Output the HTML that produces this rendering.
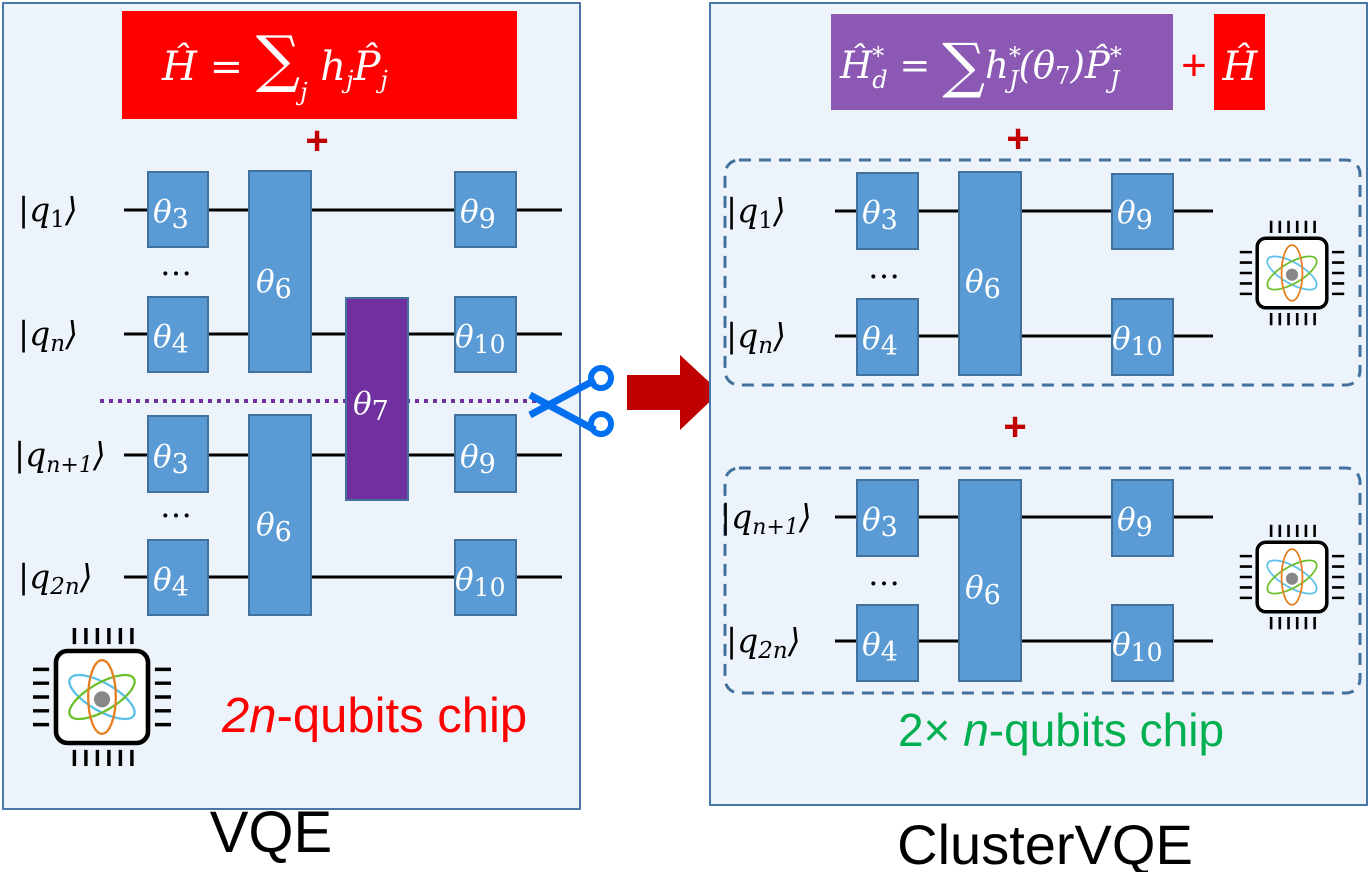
<!DOCTYPE html>
<html><head><meta charset="utf-8"><style>
body{margin:0;background:#fff;width:1370px;height:872px;overflow:hidden}
svg text{font-family:"DejaVu Serif","Liberation Serif",serif}
.th{fill:#fff;font-style:italic;font-size:31px}
.kt{fill:#000;font-style:italic;font-size:33px}
.sans{font-family:"Liberation Sans",sans-serif}
</style></head><body>
<svg width="1370" height="872" viewBox="0 0 1370 872">
<defs>
<g id="chip">
 <rect x="-40" y="-40" width="80" height="80" rx="10" fill="#fff" stroke="#000" stroke-width="4"/>
 <g stroke="#000" stroke-width="3">
  <path d="M-24,-46v-14M-14,-46v-14M-4,-46v-14M6,-46v-14M16,-46v-14M26,-46v-14"/>
  <path d="M-24,46v14M-14,46v14M-4,46v14M6,46v14M16,46v14M26,46v14"/>
  <path d="M-46,-24h-14M-46,-12h-14M-46,0h-14M-46,12h-14M-46,24h-14"/>
  <path d="M46,-24h14M46,-12h14M46,0h14M46,12h14M46,24h14"/>
 </g>
 <ellipse cx="0" cy="0" rx="32" ry="12" fill="none" stroke="#59c1e8" stroke-width="2" transform="rotate(30)"/>
 <ellipse cx="0" cy="0" rx="32" ry="12" fill="none" stroke="#6abf2a" stroke-width="2" transform="rotate(-30)"/>
 <ellipse cx="0" cy="0" rx="32" ry="12" fill="none" stroke="#e67e22" stroke-width="2" transform="rotate(90)"/>
 <circle cx="0" cy="2" r="7" fill="#888"/>
</g>
</defs>

<rect x="3" y="3" width="577" height="806" fill="#edf3fa" stroke="#4a76a8" stroke-width="2"/>
<rect x="122" y="11" width="395" height="108" fill="#ff0000"/>
<text x="162" y="80" fill="#fff" font-size="40" font-style="italic">Ĥ = <tspan font-size="62" font-style="normal">∑</tspan><tspan font-size="24" dy="20">j</tspan><tspan dy="-20"> h</tspan><tspan font-size="24" dy="8">j</tspan><tspan dy="-8">P̂</tspan><tspan font-size="24" dy="8">j</tspan></text>
<text x="317" y="154" text-anchor="middle" fill="#c00000" font-size="40" font-weight="bold" class="sans">+</text>

<g stroke="#000" stroke-width="3">
<line x1="124" y1="210" x2="562" y2="210"/><line x1="124" y1="334" x2="562" y2="334"/>
<line x1="124" y1="455" x2="562" y2="455"/><line x1="124" y1="577" x2="562" y2="577"/>
</g>
<line x1="100" y1="401" x2="550" y2="401" stroke="#7030a0" stroke-width="4" stroke-dasharray="4,5"/>
<g fill="#5b9bd5" stroke="#41719c" stroke-width="2">
<rect x="148" y="172" width="60" height="75"/><rect x="249" y="171" width="62" height="201"/><rect x="455" y="172" width="61" height="75"/>
<rect x="148" y="297" width="60" height="75"/><rect x="455" y="297" width="61" height="75"/>
<rect x="148" y="416" width="60" height="76"/><rect x="249" y="415" width="62" height="200"/><rect x="455" y="415" width="61" height="77"/>
<rect x="148" y="540" width="60" height="75"/><rect x="455" y="540" width="61" height="75"/>
</g>
<rect x="346" y="298" width="62" height="202" fill="#7030a0" stroke="#41719c" stroke-width="2"/>
<g class="th">
<text x="153" y="222">θ<tspan font-style="normal" font-size="27" dy="6">3</tspan></text>
<text x="256" y="292">θ<tspan font-style="normal" font-size="27" dy="6">6</tspan></text>
<text x="460" y="222">θ<tspan font-style="normal" font-size="27" dy="6">9</tspan></text>
<text x="153" y="347">θ<tspan font-style="normal" font-size="27" dy="6">4</tspan></text>
<text x="455" y="347">θ<tspan font-style="normal" font-size="25" dy="6">10</tspan></text>
<text x="353" y="414">θ<tspan font-style="normal" font-size="27" dy="6">7</tspan></text>
<text x="153" y="467">θ<tspan font-style="normal" font-size="27" dy="6">3</tspan></text>
<text x="256" y="535">θ<tspan font-style="normal" font-size="27" dy="6">6</tspan></text>
<text x="460" y="467">θ<tspan font-style="normal" font-size="27" dy="6">9</tspan></text>
<text x="153" y="590">θ<tspan font-style="normal" font-size="27" dy="6">4</tspan></text>
<text x="455" y="590">θ<tspan font-style="normal" font-size="25" dy="6">10</tspan></text>
</g>
<g class="kt">
<text x="18" y="221">|q<tspan font-style="normal" font-size="23" dy="6">1</tspan><tspan dy="-6">⟩</tspan></text>
<text x="18" y="345">|q<tspan font-size="23" dy="6">n</tspan><tspan dy="-6">⟩</tspan></text>
<text x="14" y="466">|q<tspan font-size="22" dy="6">n+1</tspan><tspan dy="-6">⟩</tspan></text>
<text x="18" y="588">|q<tspan font-size="23" dy="6">2n</tspan><tspan dy="-6">⟩</tspan></text>
</g>
<text x="160" y="275" font-size="32" fill="#000">…</text>
<text x="160" y="517" font-size="32" fill="#000">…</text>
<use href="#chip" transform="translate(102,697) scale(1.15)"/>
<text x="222" y="732" fill="#ff0000" font-size="49" class="sans"><tspan font-style="italic">2n</tspan>-qubits chip</text>
<text x="271" y="852" text-anchor="middle" font-size="58" class="sans">VQE</text>

<g stroke="#0070f0" stroke-width="7" fill="none">
<line x1="530" y1="395" x2="595" y2="430"/><line x1="530" y1="415" x2="595" y2="380"/>
<circle cx="601" cy="378" r="10" stroke-width="6"/><circle cx="601" cy="424" r="10" stroke-width="6"/>
</g>
<polygon points="627,375 680,375 680,355 720,392 680,430 680,410 627,410" fill="#c00000"/>

<rect x="710" y="3" width="657" height="802" fill="#edf3fa" stroke="#4a76a8" stroke-width="2"/>
<rect x="831" y="14" width="342" height="96" fill="#8b59b4"/>
<text x="840" y="78" fill="#fff" font-size="37" font-style="italic">Ĥ<tspan font-size="24" dy="-14">*</tspan><tspan font-size="24" dx="-12" dy="24">d</tspan><tspan dy="-10"> = </tspan><tspan font-size="60" font-style="normal" dy="8">∑</tspan><tspan dy="-8">h</tspan><tspan font-size="24" dy="-14">*</tspan><tspan font-size="24" dx="-12" dy="24">J</tspan><tspan dy="-10">(θ</tspan><tspan font-size="24" font-style="normal" dy="6">7</tspan><tspan dy="-6">)P̂</tspan><tspan font-size="24" dy="-14">*</tspan><tspan font-size="24" dx="-12" dy="24">J</tspan></text>
<text x="1194" y="80" text-anchor="middle" fill="#ff0000" font-size="44" class="sans">+</text>
<rect x="1214" y="14" width="51" height="96" fill="#ff0000"/>
<text x="1240" y="80" text-anchor="middle" fill="#fff" font-size="40" font-style="italic">Ĥ</text>
<text x="1018" y="152" text-anchor="middle" fill="#c00000" font-size="40" font-weight="bold" class="sans">+</text>
<text x="1015" y="440" text-anchor="middle" fill="#c00000" font-size="40" font-weight="bold" class="sans">+</text>

<g fill="none" stroke="#41719c" stroke-width="3" stroke-dasharray="12,8">
<rect x="725" y="160" width="635" height="225" rx="14"/>
<rect x="725" y="468" width="635" height="225" rx="14"/>
</g>
<g stroke="#000" stroke-width="3">
<line x1="835" y1="211" x2="1213" y2="211"/><line x1="835" y1="336" x2="1213" y2="336"/>
<line x1="835" y1="517" x2="1213" y2="517"/><line x1="835" y1="641" x2="1213" y2="641"/>
</g>
<g fill="#5b9bd5" stroke="#41719c" stroke-width="2">
<rect x="857" y="173" width="61" height="76"/><rect x="959" y="172" width="62" height="203"/><rect x="1112" y="174" width="61" height="75"/>
<rect x="857" y="299" width="61" height="76"/><rect x="1112" y="299" width="61" height="76"/>
<rect x="857" y="480" width="61" height="76"/><rect x="959" y="480" width="62" height="201"/><rect x="1112" y="480" width="61" height="76"/>
<rect x="857" y="605" width="61" height="76"/><rect x="1112" y="605" width="61" height="76"/>
</g>
<g class="th">
<text x="862" y="223">θ<tspan font-style="normal" font-size="27" dy="6">3</tspan></text>
<text x="965" y="292">θ<tspan font-style="normal" font-size="27" dy="6">6</tspan></text>
<text x="1117" y="223">θ<tspan font-style="normal" font-size="27" dy="6">9</tspan></text>
<text x="862" y="349">θ<tspan font-style="normal" font-size="27" dy="6">4</tspan></text>
<text x="1112" y="349">θ<tspan font-style="normal" font-size="25" dy="6">10</tspan></text>
<text x="862" y="530">θ<tspan font-style="normal" font-size="27" dy="6">3</tspan></text>
<text x="965" y="598">θ<tspan font-style="normal" font-size="27" dy="6">6</tspan></text>
<text x="1117" y="530">θ<tspan font-style="normal" font-size="27" dy="6">9</tspan></text>
<text x="862" y="655">θ<tspan font-style="normal" font-size="27" dy="6">4</tspan></text>
<text x="1112" y="655">θ<tspan font-style="normal" font-size="25" dy="6">10</tspan></text>
</g>
<g class="kt">
<text x="726" y="222">|q<tspan font-style="normal" font-size="23" dy="6">1</tspan><tspan dy="-6">⟩</tspan></text>
<text x="726" y="347">|q<tspan font-size="23" dy="6">n</tspan><tspan dy="-6">⟩</tspan></text>
<text x="720" y="528">|q<tspan font-size="22" dy="6">n+1</tspan><tspan dy="-6">⟩</tspan></text>
<text x="726" y="652">|q<tspan font-size="23" dy="6">2n</tspan><tspan dy="-6">⟩</tspan></text>
</g>
<text x="868" y="278" font-size="32" fill="#000">…</text>
<text x="868" y="585" font-size="32" fill="#000">…</text>
<use href="#chip" transform="translate(1292,273) scale(0.87)"/>
<use href="#chip" transform="translate(1292,577) scale(0.87)"/>
<text x="1061" y="746" text-anchor="middle" fill="#00b050" font-size="46" class="sans">2× <tspan font-style="italic">n</tspan>-qubits chip</text>
<text x="1045" y="864" text-anchor="middle" font-size="56" class="sans">ClusterVQE</text>
</svg>
</body></html>
